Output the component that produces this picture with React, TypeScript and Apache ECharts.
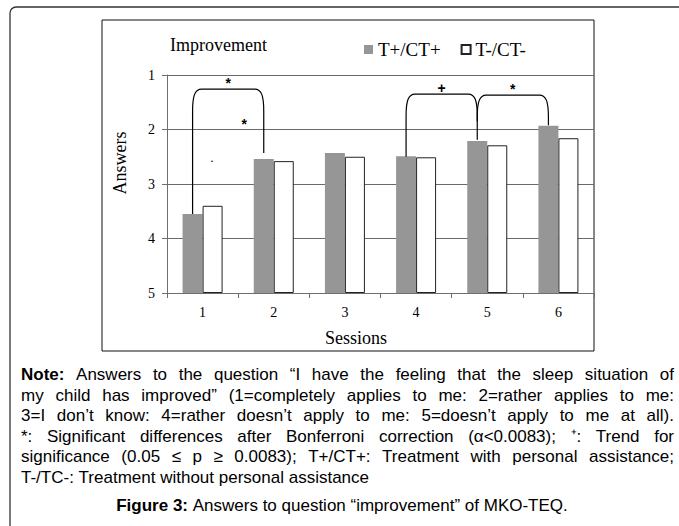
import React, { useEffect, useRef } from "react";
import * as echarts from "echarts";

// ---------- data ----------
const sessions = ["1", "2", "3", "4", "5", "6"];
const seriesNames = ["T+/CT+", "T-/CT-"];
const withAssistance = [3.55, 2.54, 2.43, 2.49, 2.21, 1.93];
const withoutAssistance = [3.4, 2.58, 2.5, 2.51, 2.29, 2.16];
const answerTicks = [1, 2, 3, 4, 5];
const SCALE_MAX = 5; // 5 = "doesn't apply to me at all" sits at the bottom

// significance brackets (category indices, answer-scale values)
const brackets = [
  { from: 0, to: 1, fromVal: 3.55, toVal: 2.43, top: 1.26, mark: "*" },
  { from: 3, to: 4, fromVal: 2.5, toVal: 2.19, top: 1.35, mark: "+" },
  { from: 4, to: 5, fromVal: 1.85, toVal: 1.92, top: 1.37, mark: "*" },
];
// loose marks (position in categories from session 1 centre, answer value)
const looseMarks = [
  { pos: 0.584, val: 1.9, text: "*", size: 14 },
  { pos: 0.131, val: 2.54, text: ".", size: 9 },
];

const titleText = "Improvement";
const yAxisName = "Answers";
const xAxisName = "Sessions";

const noteLines = [
  "Note: Answers to the question “I have the feeling that the sleep situation of",
  "my child has improved” (1=completely applies to me: 2=rather applies to me:",
  "3=I don’t know: 4=rather doesn’t apply to me: 5=doesn’t apply to me at all).",
  "*: Significant differences after Bonferroni correction (α<0.0083); ⁺: Trend for",
  "significance (0.05 ≤ p ≥ 0.0083); T+/CT+: Treatment with personal assistance;",
  "T-/TC-: Treatment without personal assistance",
];
const captionText = "Figure 3: Answers to question “improvement” of MKO-TEQ.";

// ---------- style ----------
const SERIF = '"Liberation Serif", "Times New Roman", serif';
const SANS = '"Liberation Sans", Arial, sans-serif';
const BAR_W = 20;
const NOTE_SIZE = 17;
const NOTE_LEFT = 21;
const NOTE_WIDTH = 653;

const toPlot = (v: number) => SCALE_MAX - v;

function measure(ctx: CanvasRenderingContext2D, text: string, bold: boolean) {
  ctx.font = `${bold ? "bold " : ""}${NOTE_SIZE}px ${SANS}`;
  return ctx.measureText(text).width;
}

function buildLine(
  ctx: CanvasRenderingContext2D,
  line: string,
  boldWords: number,
  justify: boolean
) {
  const words = line.split(" ");
  const widths = words.map((w, i) => measure(ctx, w, i < boldWords));
  const total = widths.reduce((a, b) => a + b, 0);
  const spaceW = measure(ctx, " ", false);
  let gap = spaceW;
  if (justify && words.length > 1) {
    gap = Math.max(spaceW, (NOTE_WIDTH - total) / (words.length - 1));
  }
  const text = words
    .map((w, i) => (i < boldWords ? `{b|${w}}` : `{r|${w}}`))
    .join("{s| }");
  return { text, gap };
}

export default function App() {
  const ref = useRef<HTMLDivElement>(null);

  useEffect(() => {
    if (!ref.current) return;
    const chart = echarts.init(ref.current, undefined, { renderer: "svg" });
    const ctx = document.createElement("canvas").getContext("2d")!;

    const richFor = (gap: number) => ({
      b: { fontSize: NOTE_SIZE, fontFamily: SANS, fontWeight: "bold", fill: "#000" },
      r: { fontSize: NOTE_SIZE, fontFamily: SANS, fill: "#000" },
      s: { fontSize: NOTE_SIZE, fontFamily: SANS, fill: "#000", width: gap },
    });

    const noteGraphics: any[] = noteLines.map((line, i) => {
      const isLast = i === noteLines.length - 1;
      const built = buildLine(ctx, line, i === 0 ? 1 : 0, !isLast);
      return {
        type: "text",
        left: NOTE_LEFT,
        top: 366 + i * 20.5,
        style: {
          text: built.text,
          fontSize: NOTE_SIZE,
          fontFamily: SANS,
          fill: "#000",
          rich: richFor(built.gap),
        },
      };
    });
    const cap = buildLine(ctx, captionText, 2, false);
    noteGraphics.push({
      type: "text",
      x: 342,
      y: 505,
      style: {
        text: cap.text,
        align: "center",
        verticalAlign: "middle",
        fontSize: NOTE_SIZE,
        fontFamily: SANS,
        fill: "#000",
        rich: richFor(cap.gap),
      },
    });

    const option: any = {
      animation: false,
      backgroundColor: "#fff",
      grid: { left: 167, right: 85, top: 75, bottom: 233, containLabel: false },
      legend: {
        data: seriesNames,
        left: 359,
        top: 35,
        icon: "rect",
        itemWidth: 9,
        itemHeight: 9,
        itemGap: 20,
        textStyle: { fontFamily: SERIF, fontSize: 19, color: "#000" },
      },
      xAxis: {
        type: "category",
        data: sessions,
        axisLine: { show: true, lineStyle: { color: "#6e6e6e", width: 1 } },
        axisTick: { show: true, length: 5, alignWithLabel: false, lineStyle: { color: "#6e6e6e" } },
        axisLabel: { fontFamily: SERIF, fontSize: 14, color: "#000", margin: 12 },
        splitLine: { show: false },
      },
      yAxis: {
        type: "value",
        min: 0,
        max: SCALE_MAX - answerTicks[0],
        interval: 1,
        axisLine: { show: true, lineStyle: { color: "#6e6e6e", width: 1 } },
        axisTick: { show: true, length: 5, lineStyle: { color: "#6e6e6e" } },
        axisLabel: {
          fontFamily: SERIF,
          fontSize: 14,
          color: "#000",
          margin: 12,
          formatter: (v: number) => String(SCALE_MAX - v),
        },
        splitLine: { show: true, lineStyle: { color: "#6a6a6a", width: 1 } },
      },
      series: [
        {
          name: seriesNames[0],
          type: "bar",
          data: withAssistance.map(toPlot),
          barWidth: BAR_W,
          barGap: "0%",
          itemStyle: { color: "#969696" },
        },
        {
          name: seriesNames[1],
          type: "bar",
          data: withoutAssistance.map(toPlot),
          barWidth: BAR_W,
          barGap: "0%",
          itemStyle: { color: "#ffffff", borderColor: "#222", borderWidth: 1 },
        },
        {
          type: "custom",
          silent: true,
          clip: false,
          z: 5,
          data: brackets.map((b) => [b.from, toPlot(b.top)]),
          encode: { x: 0, y: 1 },
          renderItem: (params: any, api: any) => {
            const b = brackets[params.dataIndex];
            const off = -BAR_W / 2;
            const pL = api.coord([b.from, toPlot(b.fromVal)]);
            const pR = api.coord([b.to, toPlot(b.toVal)]);
            const yTop = api.coord([b.from, toPlot(b.top)])[1];
            const xL = pL[0] + off;
            const xR = pR[0] + off;
            const r = 9;
            const v = 22;
            const d =
              `M${xL},${pL[1]} L${xL},${yTop + v} ` +
              `C${xL},${yTop + v * 0.3} ${xL + r * 0.25},${yTop} ${xL + r},${yTop} ` +
              `L${xR - r},${yTop} ` +
              `C${xR - r * 0.25},${yTop} ${xR},${yTop + v * 0.3} ${xR},${yTop + v} ` +
              `L${xR},${pR[1]}`;
            return {
              type: "group",
              children: [
                {
                  type: "path",
                  shape: { pathData: d },
                  style: { fill: "none", stroke: "#000", lineWidth: 1.2 },
                },
                {
                  type: "text",
                  x: (xL + xR) / 2,
                  y: yTop - 6,
                  style: {
                    text: b.mark,
                    align: "center",
                    verticalAlign: "middle",
                    textAlign: "center",
                    textVerticalAlign: "middle",
                    fontSize: 14,
                    fontWeight: "bold",
                    fontFamily: SANS,
                    fill: "#000",
                  },
                },
              ],
            };
          },
        },
        {
          type: "custom",
          silent: true,
          clip: false,
          z: 5,
          data: looseMarks.map((m) => [0, toPlot(m.val)]),
          encode: { x: 0, y: 1 },
          renderItem: (params: any, api: any) => {
            const m = looseMarks[params.dataIndex];
            const band = api.size([1, 0])[0];
            const p = api.coord([0, toPlot(m.val)]);
            return {
              type: "text",
              x: p[0] + m.pos * band,
              y: p[1],
              style: {
                text: m.text,
                align: "center",
                verticalAlign: "middle",
                textAlign: "center",
                textVerticalAlign: "middle",
                fontSize: m.size,
                fontWeight: "bold",
                fontFamily: SANS,
                fill: "#000",
              },
            };
          },
        },
      ],
      graphic: [
        {
          type: "rect",
          shape: { x: 10, y: 7, width: 720, height: 600, r: [6, 0, 0, 0] },
          style: { fill: "none", stroke: "#333", lineWidth: 1.3 },
          silent: true,
        },
        {
          type: "rect",
          shape: { x: 102, y: 20, width: 492, height: 331 },
          style: { fill: "none", stroke: "#111", lineWidth: 1 },
          silent: true,
        },
        {
          type: "text",
          x: 170,
          y: 45,
          style: {
            text: titleText,
            fontFamily: SERIF,
            fontSize: 18,
            fill: "#000",
            align: "left",
            verticalAlign: "middle",
          },
        },
        {
          type: "text",
          x: 120,
          y: 163,
          rotation: Math.PI / 2,
          style: {
            text: yAxisName,
            fontFamily: SERIF,
            fontSize: 18,
            fill: "#000",
            align: "center",
            verticalAlign: "middle",
          },
        },
        {
          type: "text",
          x: 356,
          y: 338,
          style: {
            text: xAxisName,
            fontFamily: SERIF,
            fontSize: 18,
            fill: "#000",
            align: "center",
            verticalAlign: "middle",
          },
        },
        ...noteGraphics,
      ],
    };

    chart.setOption(option);
    return () => chart.dispose();
  }, []);

  return (
    <div
      ref={ref}
      style={{ position: "absolute", left: 0, top: 0, width: 679, height: 526 }}
    />
  );
}
